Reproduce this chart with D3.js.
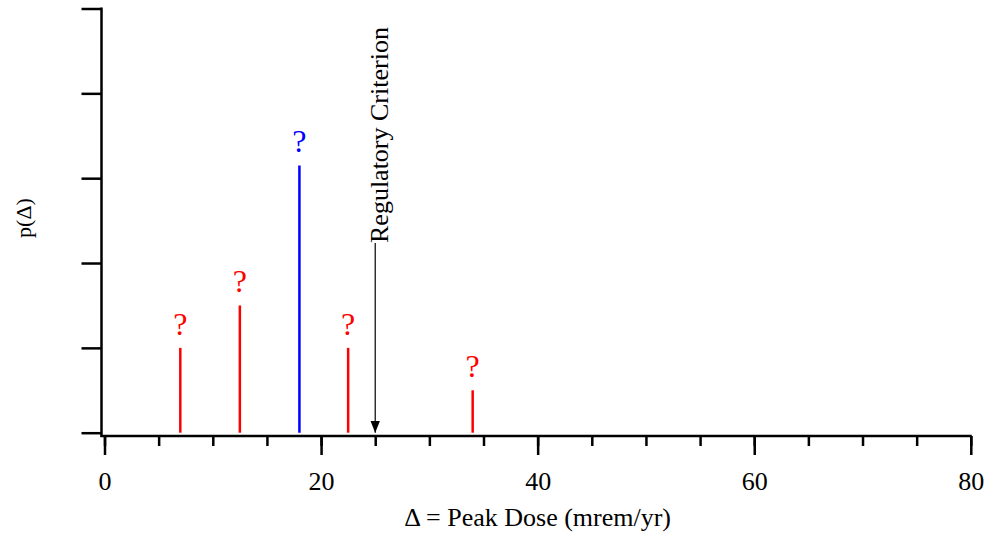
<!DOCTYPE html>
<html>
<head>
<meta charset="utf-8">
<script src="https://cdn.jsdelivr.net/npm/d3@7"></script>
<style>
  html, body { margin: 0; padding: 0; background: #fff; }
  svg text { font-family: "Liberation Serif", "Times New Roman", serif; fill: #000; }
</style>
</head>
<body>
<div id="chart"></div>
<script>
// datos
const doses = [7, 12.5, 18, 22.5, 34];
const probs = [1.0, 1.5, 3.15, 1.0, 0.5];
const outcome = ["other", "other", "selected", "other", "other"];
const regulatoryCriterion = 25;
const xMajorTicks = [0, 20, 40, 60, 80];
const xMinorTicks = [0, 5, 10, 15, 20, 25, 30, 35, 40, 45, 50, 55, 60, 65, 70, 75, 80];
const yTicks = [0, 1, 2, 3, 4, 5];

const width = 987, height = 533;

const svg = d3.select('#chart').append('svg')
    .attr('width', width)
    .attr('height', height);

const x = d3.scaleLinear().domain([0, 80]).range([104.5, 970.8]);
const y = d3.scaleLinear().domain([0, 5]).range([432.7, 8.5]);

const color = d3.scaleOrdinal()
    .domain(["other", "selected"])
    .range(["#ff0000", "#0000ff"]);

const axisY = 436;   // linea del eje x
const axisX = 101.5; // linea del eje y

// Eje Y (solo marcas)
const gy = svg.append('g')
    .attr('transform', `translate(${axisX},0)`)
    .call(d3.axisLeft(y).tickValues(yTicks).tickSize(20).tickFormat(''));
gy.select('.domain').remove();
gy.selectAll('line').attr('stroke', '#000').attr('stroke-width', 2.5);

svg.append('line')
    .attr('x1', axisX).attr('x2', axisX)
    .attr('y1', y(5) - 1).attr('y2', axisY + 1)
    .attr('stroke', '#000').attr('stroke-width', 2.5);

// Eje X: marcas menores y mayores
const gxMinor = svg.append('g')
    .attr('transform', `translate(0,${axisY})`)
    .call(d3.axisBottom(x).tickValues(xMinorTicks).tickSize(10).tickFormat(''));
gxMinor.select('.domain').remove();
gxMinor.selectAll('line').attr('stroke', '#000').attr('stroke-width', 2.5);

const gxMajor = svg.append('g')
    .attr('transform', `translate(0,${axisY})`)
    .call(d3.axisBottom(x).tickValues(xMajorTicks).tickSize(19).tickFormat(d3.format('d')));
gxMajor.select('.domain').remove();
gxMajor.selectAll('line').attr('stroke', '#000').attr('stroke-width', 2.5);
gxMajor.selectAll('text')
    .attr('y', 54)
    .attr('dy', 0)
    .style('font-size', '26px')
    .style('font-family', '"Liberation Serif", "Times New Roman", serif')
    .attr('fill', '#000');

svg.append('line')
    .attr('x1', axisX - 1).attr('x2', x(80) + 1)
    .attr('y1', axisY).attr('y2', axisY)
    .attr('stroke', '#000').attr('stroke-width', 2.5);

// Titulos de ejes
svg.append('text')
    .attr('x', (x(0) + x(80)) / 2)
    .attr('y', 526)
    .attr('text-anchor', 'middle')
    .style('font-size', '26px')
    .text('Δ = Peak Dose (mrem/yr)');

svg.append('text')
    .attr('transform', 'translate(31,218) rotate(-90)')
    .attr('text-anchor', 'middle')
    .style('font-size', '22px')
    .text('p(Δ)');

// Lineas verticales (probabilidades)
const rows = doses.map((d, i) => ({ dose: d, p: probs[i], kind: outcome[i] }));

svg.append('g')
    .selectAll('line')
    .data(rows)
    .enter().append('line')
    .attr('x1', d => x(d.dose))
    .attr('x2', d => x(d.dose))
    .attr('y1', y(0))
    .attr('y2', d => y(d.p))
    .attr('stroke', d => color(d.kind))
    .attr('stroke-width', 2.5);

svg.append('g')
    .selectAll('text')
    .data(rows)
    .enter().append('text')
    .attr('x', d => x(d.dose))
    .attr('y', d => y(d.p) - 13)
    .attr('text-anchor', 'middle')
    .style('font-size', '32px')
    .style('fill', d => color(d.kind))
    .text('?');

// Criterio regulatorio
svg.append('defs').append('marker')
    .attr('id', 'arrow')
    .attr('viewBox', '0 0 10 10')
    .attr('refX', 10).attr('refY', 5)
    .attr('markerWidth', 12).attr('markerHeight', 14)
    .attr('markerUnits', 'userSpaceOnUse')
    .attr('orient', 'auto')
    .append('path')
    .attr('d', 'M0,1 L10,5 L0,9 Z')
    .attr('fill', '#000');

const regX = x(regulatoryCriterion);
svg.append('line')
    .attr('x1', regX).attr('x2', regX)
    .attr('y1', 243)
    .attr('y2', y(0))
    .attr('stroke', '#000')
    .attr('stroke-width', 1.2)
    .attr('marker-end', 'url(#arrow)');

svg.append('text')
    .attr('transform', `translate(${regX + 13},243) rotate(-90)`)
    .attr('text-anchor', 'start')
    .style('font-size', '26px')
    .text('Regulatory Criterion');
</script>
</body>
</html>
